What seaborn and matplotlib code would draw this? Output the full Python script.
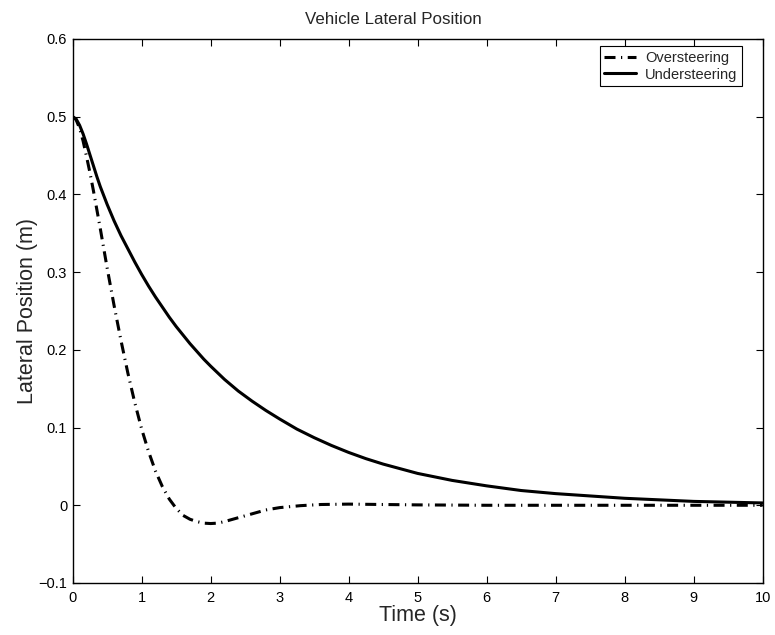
import matplotlib
matplotlib.use("Agg")
import matplotlib.pyplot as plt
import seaborn as sns
import pandas as pd

t_over = [0, 0.05, 0.1, 0.15, 0.2, 0.25, 0.3, 0.4, 0.5, 0.6, 0.7, 0.8, 0.9, 1.0, 1.1,
          1.2, 1.3, 1.4, 1.5, 1.6, 1.7, 1.8, 1.9, 2.0, 2.1, 2.2, 2.4, 2.6, 2.8, 3.0,
          3.3, 3.6, 4.0, 4.5, 5.0, 6.0, 7.0, 8.0, 9.0, 10.0]
y_over = [0.5, 0.496, 0.485, 0.469, 0.449, 0.428, 0.405, 0.356, 0.305, 0.257, 0.212,
          0.170, 0.132, 0.098, 0.069, 0.044, 0.024, 0.008, -0.004, -0.013, -0.018,
          -0.021, -0.023, -0.0235, -0.023, -0.021, -0.016, -0.011, -0.006, -0.003,
          -0.0005, 0.001, 0.0015, 0.001, 0.0005, 0.0, 0.0, 0.0, 0.0, 0.0]

t_under = [0, 0.05, 0.1, 0.15, 0.2, 0.25, 0.3, 0.35, 0.4, 0.5, 0.6, 0.7, 0.8, 0.9,
           1.0, 1.1, 1.2, 1.3, 1.4, 1.5, 1.6, 1.7, 1.8, 1.9, 2.0, 2.2, 2.4, 2.6, 2.8,
           3.0, 3.25, 3.5, 3.75, 4.0, 4.25, 4.5, 4.75, 5.0, 5.5, 6.0, 6.5, 7.0, 7.5,
           8.0, 8.5, 9.0, 9.5, 10.0]
y_under = [0.5, 0.497, 0.489, 0.478, 0.465, 0.451, 0.437, 0.423, 0.410, 0.387, 0.366,
           0.347, 0.330, 0.313, 0.297, 0.282, 0.268, 0.255, 0.242, 0.230, 0.219,
           0.208, 0.198, 0.188, 0.179, 0.162, 0.147, 0.134, 0.122, 0.111, 0.098,
           0.087, 0.077, 0.068, 0.060, 0.053, 0.047, 0.041, 0.032, 0.025, 0.019,
           0.015, 0.012, 0.009, 0.007, 0.005, 0.004, 0.003]

x_ticks = list(range(0, 11))
y_ticks = [-0.1, 0, 0.1, 0.2, 0.3, 0.4, 0.5, 0.6]
y_tick_labels = ["\u22120.1", "0", "0.1", "0.2", "0.3", "0.4", "0.5", "0.6"]

df = pd.concat([
    pd.DataFrame({"Time": t_over, "Pos": y_over, "Case": "Oversteering"}),
    pd.DataFrame({"Time": t_under, "Pos": y_under, "Case": "Understeering"}),
])

sns.set_style("ticks")
plt.rcParams["font.family"] = ["Liberation Sans", "DejaVu Sans"]
plt.rcParams["xtick.direction"] = "in"
plt.rcParams["ytick.direction"] = "in"
plt.rcParams["xtick.top"] = True
plt.rcParams["ytick.right"] = True

fig = plt.figure(figsize=(7.75, 6.35), dpi=100)
ax = fig.add_axes([0.0938, 0.0819, 0.984 - 0.0938, 0.9386 - 0.0819])

sns.lineplot(data=df, x="Time", y="Pos", hue="Case", style="Case",
             palette=["black", "black"],
             dashes={"Oversteering": (3.6, 1.8, 0.4, 1.8), "Understeering": ""},
             linewidth=2.2, ax=ax, sort=False, estimator=None)

ax.set_xlim(0, 10)
ax.set_ylim(-0.1, 0.6)
ax.set_xticks(x_ticks)
ax.set_yticks(y_ticks)
ax.set_yticklabels(y_tick_labels)
ax.tick_params(labelsize=10.5, length=5, width=0.8, colors="black")
ax.tick_params(axis="x", pad=6)
ax.tick_params(axis="y", pad=4)
for s in ax.spines.values():
    s.set_visible(True)
    s.set_color("black")
    s.set_linewidth(1.0)

ax.set_xlabel("Time (s)", fontsize=15.5, labelpad=0)
ax.set_ylabel("Lateral Position (m)", fontsize=15.5, labelpad=0.5)
fig.text(393 / 775, 1 - 19 / 635, "Vehicle Lateral Position", fontsize=12.2,
         ha="center", va="center")

leg = ax.legend(loc="upper right", fontsize=10.5, frameon=True, fancybox=False,
                edgecolor="black", framealpha=1, borderpad=0.3, labelspacing=0.2,
                handlelength=2.2, handletextpad=0.6, borderaxespad=0.5,
                bbox_to_anchor=(0.98, 1.0))
leg.get_frame().set_linewidth(0.8)

fig.savefig("out.png", dpi=100)
